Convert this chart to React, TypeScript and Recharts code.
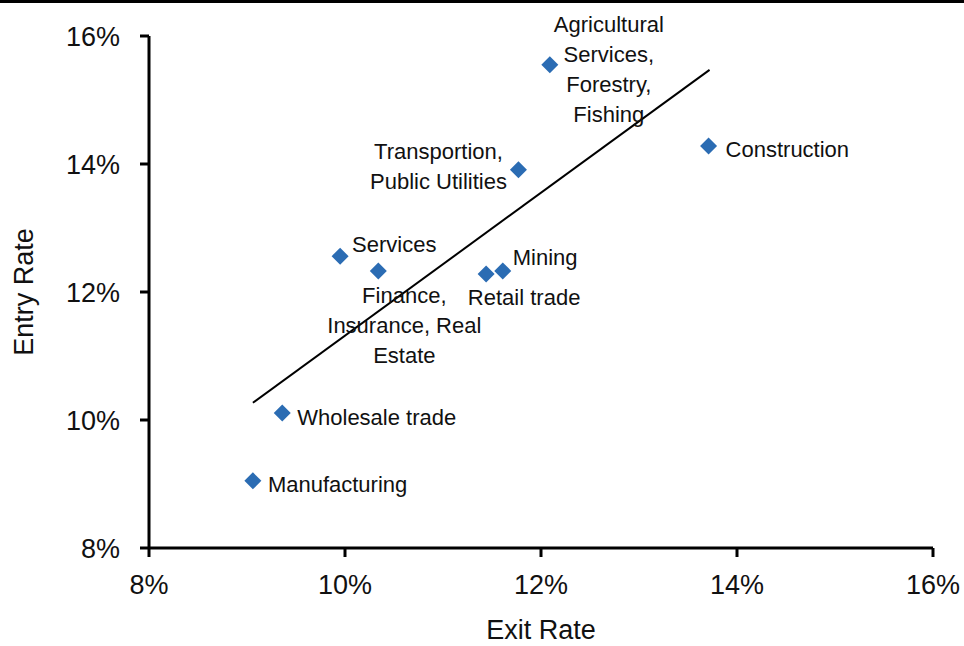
import React from 'react';
import { ScatterChart, Scatter, XAxis, YAxis, ReferenceLine, Label } from 'recharts';

const industries = [
  'Agricultural Services, Forestry, Fishing',
  'Construction',
  'Transportion, Public Utilities',
  'Services',
  'Finance, Insurance, Real Estate',
  'Mining',
  'Retail trade',
  'Wholesale trade',
  'Manufacturing',
];
const exitRates = [12.09, 13.71, 11.77, 9.95, 10.34, 11.61, 11.44, 9.36, 9.06];
const entryRates = [15.55, 14.28, 13.91, 12.56, 12.33, 12.33, 12.28, 10.11, 9.05];
const trendExit = [9.06, 13.72];
const trendEntry = [10.27, 15.47];
const xTicks = [8, 10, 12, 14, 16];
const yTicks = [8, 10, 12, 14, 16];

// label layout (lines, offset from point, anchor)
const labelLayout: { lines: string[]; dx: number; dy: number; anchor: string }[] = [
  { lines: ['Agricultural', 'Services,', 'Forestry,', 'Fishing'], dx: 59, dy: -33, anchor: 'middle' },
  { lines: ['Construction'], dx: 17, dy: 11, anchor: 'start' },
  { lines: ['Transportion,', 'Public Utilities'], dx: -80, dy: -11, anchor: 'middle' },
  { lines: ['Services'], dx: 12, dy: -4, anchor: 'start' },
  { lines: ['Finance,', 'Insurance, Real', 'Estate'], dx: 26, dy: 32, anchor: 'middle' },
  { lines: ['Mining'], dx: 10, dy: -6, anchor: 'start' },
  { lines: ['Retail trade'], dx: 38, dy: 31, anchor: 'middle' },
  { lines: ['Wholesale trade'], dx: 15, dy: 12, anchor: 'start' },
  { lines: ['Manufacturing'], dx: 15, dy: 11, anchor: 'start' },
];

const points = industries.map((name, i) => ({ name, x: exitRates[i], y: entryRates[i], idx: i }));

const FONT = '"Liberation Sans", Arial, Helvetica, sans-serif';
const MARK = '#2B6CB3';
const TEXT = '#111';

const DiamondShape = (props: any) => {
  const { cx, cy, payload } = props;
  if (cx == null || cy == null) return null;
  const r = 8.5;
  const lay = labelLayout[payload.idx];
  return (
    <g>
      <polygon points={`${cx},${cy - r} ${cx + r},${cy} ${cx},${cy + r} ${cx - r},${cy}`} fill={MARK} />
      {lay && (
        <text
          x={cx + lay.dx}
          y={cy + lay.dy}
          textAnchor={lay.anchor as any}
          fontSize={22}
          fontFamily={FONT}
          fill={TEXT}
        >
          {lay.lines.map((l, k) => (
            <tspan key={k} x={cx + lay.dx} dy={k === 0 ? 0 : 30}>
              {l}
            </tspan>
          ))}
        </text>
      )}
    </g>
  );
};

const YTitle = (props: any) => {
  const vb = props.viewBox || { x: 0, y: 36, width: 149, height: 512 };
  const cx = vb.x + 33;
  const cy = vb.y + vb.height / 2;
  return (
    <text x={cx} y={cy} transform={`rotate(-90 ${cx} ${cy})`} textAnchor="middle" fontSize={27} fontFamily={FONT} fill={TEXT}>
      Entry Rate
    </text>
  );
};

const XTitle = (props: any) => {
  const vb = props.viewBox || { x: 149, y: 548, width: 784, height: 98 };
  const cx = vb.x + vb.width / 2;
  const cy = vb.y + 91;
  return (
    <text x={cx} y={cy} textAnchor="middle" fontSize={27} fontFamily={FONT} fill={TEXT}>
      Exit Rate
    </text>
  );
};

export default function App() {
  return (
    <div style={{ position: 'absolute', left: 0, top: 0, width: 964, height: 646, background: '#fff' }}>
      <div style={{ position: 'absolute', left: 0, top: 0, width: 964, height: 3, background: '#000', zIndex: 2 }} />
      <ScatterChart
        width={964}
        height={646}
        margin={{ top: 36, right: 31, bottom: 0, left: 0 }}
        style={{ fontFamily: FONT }}
      >
        <XAxis
          type="number"
          dataKey="x"
          domain={[8, 16]}
          ticks={xTicks}
          tickFormatter={(v: number) => `${v}%`}
          height={98}
          axisLine={{ stroke: '#000', strokeWidth: 3 }}
          tickLine={{ stroke: '#000', strokeWidth: 3 }}
          tickSize={9}
          tickMargin={18}
          tick={{ fill: TEXT, fontSize: 27, fontFamily: FONT }}
          interval={0}
        >
          <Label content={<XTitle />} />
        </XAxis>
        <YAxis
          type="number"
          dataKey="y"
          domain={[8, 16]}
          ticks={yTicks}
          tickFormatter={(v: number) => `${v}%`}
          width={149}
          axisLine={{ stroke: '#000', strokeWidth: 3 }}
          tickLine={{ stroke: '#000', strokeWidth: 3 }}
          tickSize={9}
          tickMargin={20}
          tick={{ fill: TEXT, fontSize: 27, fontFamily: FONT }}
          interval={0}
        >
          <Label content={<YTitle />} />
        </YAxis>
        <ReferenceLine
          segment={[
            { x: trendExit[0], y: trendEntry[0] },
            { x: trendExit[1], y: trendEntry[1] },
          ]}
          stroke="#000"
          strokeWidth={2}
          ifOverflow="visible"
        />
        <Scatter data={points} shape={<DiamondShape />} isAnimationActive={false} />
      </ScatterChart>
    </div>
  );
}
